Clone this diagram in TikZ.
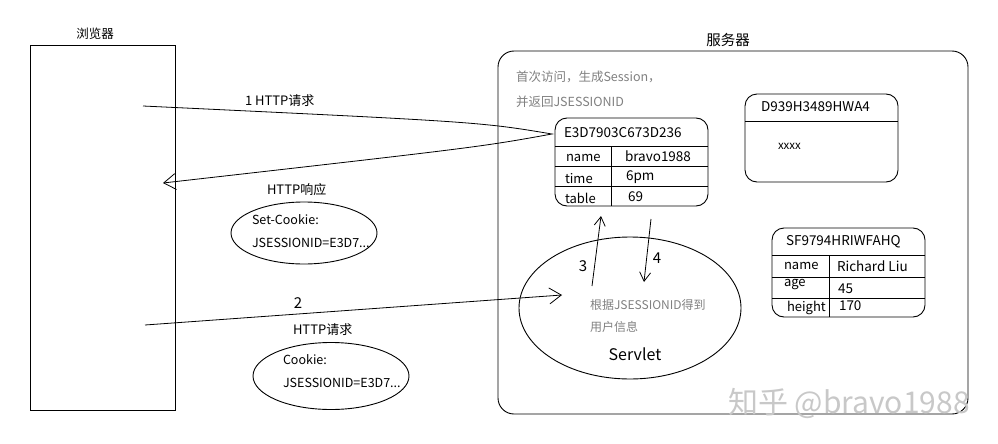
\documentclass[tikz,border=0pt]{standalone}
\usepackage{fontspec}
\setmainfont{Noto Sans CJK SC}
\usetikzlibrary{arrows.meta,shapes.geometric}
\definecolor{graytxt}{HTML}{808080}
\definecolor{wm}{HTML}{C8C8C8}
\begin{document}
\begin{tikzpicture}[x=1pt,y=-1pt,line width=0.9pt,
  every node/.style={inner sep=0pt,outer sep=0pt},
  txt/.style={anchor=west,font=\fontsize{13}{15}\selectfont},
  htxt/.style={anchor=west,font=\fontsize{13.5}{15}\selectfont},
  gtxt/.style={txt,text=graytxt,font=\fontsize{12.5}{14}\selectfont},
  ctxt/.style={anchor=west,font=\fontsize{12.5}{14}\selectfont},
  sbox/.style={draw,rounded corners=12pt,anchor=north west},
  oval/.style={draw,ellipse},
  arr/.style={-{Straight Barb[length=12pt,width=16pt]},line width=0.8pt},
  sarr/.style={-{Straight Barb[length=9pt,width=11pt]},line width=0.8pt}]
\useasboundingbox (0,0) rectangle (998,444);
% browser
\node[draw,anchor=north west,minimum width=145pt,minimum height=365pt] (browser) at (30,45) {};
\node[font=\fontsize{12.5}{14}\selectfont] (blabel) at (95,34) {浏览器};
% server
\node[draw,rounded corners=16pt,anchor=north west,minimum width=470pt,minimum height=363pt] (server) at (498,51) {};
\node[font=\fontsize{14.5}{16}\selectfont] (slabel) at (728,40) {服务器};
\node[gtxt] (g1) at (516,77) {首次访问，生成Session，};
\node[gtxt] (g2) at (516,102) {并返回JSESSIONID};
% session E3D7
\node[sbox,minimum width=153pt,minimum height=88pt] (s1) at (555,118) {};
\draw (s1.west |- 0,146) -- (s1.east |- 0,146);
\draw (s1.west |- 0,166) -- (s1.east |- 0,166);
\draw (s1.west |- 0,186) -- (s1.east |- 0,186);
\draw (611,146) -- (611,206);
\node[htxt] (s1t) at (564,133) {E3D7903C673D236};
\node[txt] at (566,158) {name};
\node[htxt] at (625,156) {bravo1988};
\node[txt] at (565,179) {time};
\node[htxt] at (626,177) {6pm};
\node[txt] at (565,198) {table};
\node[htxt] at (628,197) {69};
% session D939
\node[sbox,minimum width=153pt,minimum height=88pt] (s2) at (745,94) {};
\draw (s2.west |- 0,121) -- (s2.east |- 0,121);
\node[htxt] at (761,107) {D939H3489HWA4};
\node[anchor=west,font=\fontsize{11.5}{13}\selectfont] at (778,146) {xxxx};
% session SF97
\node[sbox,minimum width=153pt,minimum height=89pt] (s3) at (772,228) {};
\draw (s3.west |- 0,255) -- (s3.east |- 0,255);
\draw (s3.west |- 0,277) -- (s3.east |- 0,277);
\draw (s3.west |- 0,298) -- (s3.east |- 0,298);
\draw (829,255) -- (829,317);
\node[htxt] at (786,242) {SF9794HRIWFAHQ};
\node[txt] at (784,266) {name};
\node[htxt] at (837,266) {Richard Liu};
\node[txt] at (784,285) {age};
\node[htxt] at (838,289) {45};
\node[txt] at (787,308) {height};
\node[htxt] at (839,306) {170};
% servlet
\node[oval,minimum width=222pt,minimum height=142pt] (servlet) at (630,308) {};
\node[gtxt,font=\fontsize{12}{14}\selectfont] at (590,305) {根据JSESSIONID得到};
\node[gtxt,font=\fontsize{12}{14}\selectfont] at (590,327) {用户信息};
\node[font=\fontsize{16}{18}\selectfont] (servtxt) at (635,354) {Servlet};
% cookie ellipses
\node[oval,minimum width=146pt,minimum height=62pt] (setc) at (304,233) {};
\node[ctxt] at (252,220) {Set-Cookie:};
\node[ctxt] at (252,243) {JSESSIONID=E3D7...};
\node[oval,minimum width=156pt,minimum height=67pt] (cook) at (331,376) {};
\node[ctxt] at (283,360) {Cookie:};
\node[ctxt] at (283,383) {JSESSIONID=E3D7...};
% arrow 1 request / response
\coordinate (a1s) at (143,106);
\coordinate (a1tip) at (552,134);
\coordinate (a1e) at (163,183);
\draw[arr] (a1s) .. controls (480,122) .. (a1tip) .. controls (480,147) .. (a1e);
\node[txt] at (245,101) {1 HTTP请求};
\node[txt] at (267,190) {HTTP响应};
% arrow 2
\coordinate (a2s) at (145,325);
\coordinate (a2e) at (562,295);
\draw[arr] (a2s) -- (a2e);
\node[font=\fontsize{15}{17}\selectfont] at (298,303) {2};
\node[txt] at (293,330) {HTTP请求};
% arrows 3, 4
\coordinate (a3s) at (592,286);
\coordinate (a3e) at (601,216);
\draw[sarr] (a3s) -- (a3e);
\node[font=\fontsize{15}{17}\selectfont] at (583,266) {3};
\coordinate (a4s) at (651,219);
\coordinate (a4e) at (644,282);
\draw[sarr] (a4s) -- (a4e);
\node[font=\fontsize{15}{17}\selectfont] at (657,258) {4};
% watermark
\node[anchor=west,text=wm,font=\fontsize{30}{33}\selectfont] (wmk) at (728,403) {知乎 @bravo1988};
\end{tikzpicture}
\end{document}
